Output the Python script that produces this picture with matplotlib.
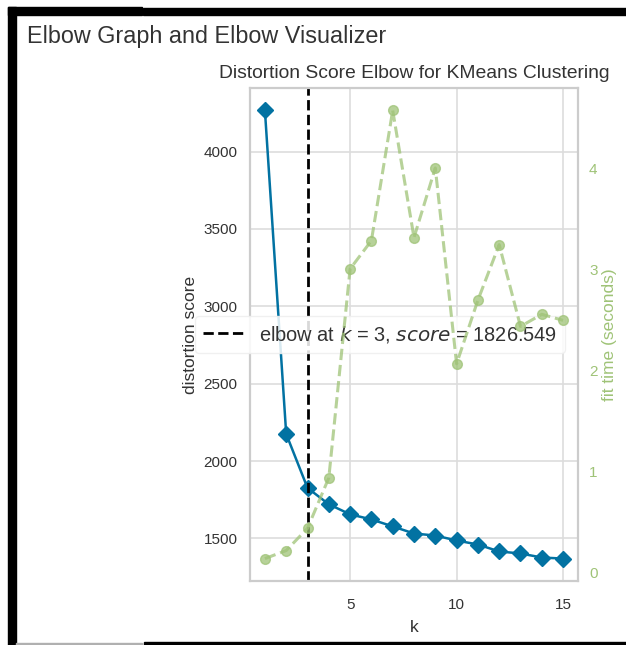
import matplotlib.pyplot as plt
from matplotlib.patches import Rectangle

plt.rcParams['font.family'] = ['Liberation Sans', 'DejaVu Sans']

k_values = list(range(1, 16))
distortion = [4266, 2175, 1826.549, 1721, 1656, 1623, 1578, 1532, 1519, 1487,
              1461, 1416, 1403, 1377, 1370]
fit_time = [0.14, 0.22, 0.44, 0.94, 3.01, 3.29, 4.58, 3.32, 4.01, 2.07,
            2.70, 3.25, 2.44, 2.56, 2.50]
elbow_k = 3
elbow_score = 1826.549

BLUE = '#0272a2'
GREEN = '#9fc377'
W, H = 626, 645

fig = plt.figure(figsize=(6.26, 6.45), dpi=100)
fig.patch.set_facecolor('white')

# screenshot frame bits
def px_rect(x0, y0, x1, y1, color='black'):
    fig.patches.append(Rectangle((x0 / W, 1 - y1 / H), (x1 - x0) / W, (y1 - y0) / H,
                                 transform=fig.transFigure, color=color, zorder=10))

px_rect(8, 7, 142, 14.5)
px_rect(143, 8, 626, 14.5)
px_rect(8, 7, 15.5, 645)
px_rect(15.5, 643, 142, 645, color='#b0b0b0')
px_rect(144, 642, 626, 645)

fig.text(27 / W, 1 - 36 / H, 'Elbow Graph and Elbow Visualizer', fontsize=16.8,
         color='#333333', ha='left', va='center')

ax = fig.add_axes([250 / W, 1 - 581 / H, 328 / W, 493 / H])
ax.set_facecolor('white')
for s in ax.spines.values():
    s.set_color('#cccccc')
    s.set_linewidth(1.6)
ax.grid(True, color='#dddddd', linewidth=1.2)
ax.set_axisbelow(True)

ax.plot(k_values, distortion, color=BLUE, marker='D', markersize=8, linewidth=1.8)
ax.axvline(elbow_k, color='black', linestyle='--', linewidth=2,
           label=f'elbow at $k$ = {elbow_k}, $score$ = {elbow_score:.3f}')

ax.set_xticks([5, 10, 15])
ax.set_yticks([1500, 2000, 2500, 3000, 3500, 4000])
ax.tick_params(length=0, labelsize=11, labelcolor='#333333', pad=12)
ax.tick_params(axis='y', pad=9)
ax.set_xlabel('k', fontsize=12.5, color='#333333', labelpad=6)
ax.set_ylabel('distortion score', fontsize=12.5, color='#333333', labelpad=4)
ax.set_title('Distortion Score Elbow for KMeans Clustering', fontsize=13.9,
             color='#333333', pad=7)

ax2 = ax.twinx()
ax2.plot(k_values, fit_time, color=GREEN, marker='o', markersize=7,
         linestyle='--', linewidth=2.2, alpha=0.75)
ax2.grid(False)
for s in ax2.spines.values():
    s.set_visible(False)
ax2.set_yticks([0, 1, 2, 3, 4])
ax2.tick_params(length=0, labelsize=11, labelcolor=GREEN, pad=8)
ax2.set_ylabel('fit time (seconds)', fontsize=12.5, color=GREEN, labelpad=3)

leg = ax.legend(loc='center', bbox_to_anchor=(0.396, 0.501), fontsize=14.4,
                frameon=True, framealpha=0.85, edgecolor='#eeeeee', fancybox=True)
leg.set_zorder(20)
for t in leg.get_texts():
    t.set_color('#333333')

fig.savefig('out.png', dpi=100)
